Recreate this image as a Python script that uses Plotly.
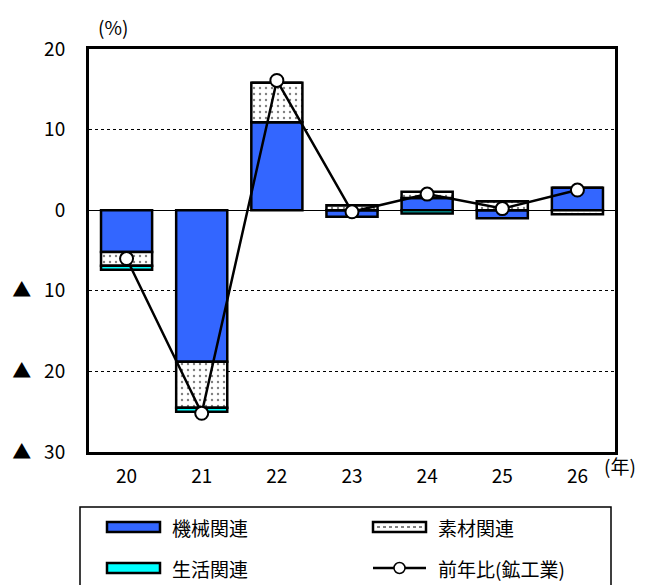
import plotly.graph_objects as go

years = ["20", "21", "22", "23", "24", "25", "26"]
series_names = ["機械関連", "素材関連", "生活関連", "前年比(鉱工業)"]
kikai = [-5.2, -18.8, 10.9, -0.8, 1.5, -1.0, 2.8]
sozai = [-1.7, -5.7, 4.9, 0.6, 0.8, 1.1, -0.5]
seikatsu = [-0.5, -0.5, 0.0, 0.0, -0.4, 0.0, 0.0]
total = [-6.0, -25.2, 16.1, -0.2, 2.0, 0.2, 2.5]
y_ticks = [20, 10, 0, -10, -20, -30]
y_ticktext = ["20", "10", "0", "▲   10", "▲   20", "▲   30"]

FONT = "Noto Sans CJK JP"
W, H = 651, 585
L, R, T, B = 89, 36, 49, 133
PW, PH = W - L - R, H - T - B


def px(x):
    return (x - L) / PW


def py(y):
    return (H - B - y) / PH


fig = go.Figure()
line_w = 2.5
fig.add_bar(x=years, y=kikai, name=series_names[0], marker=dict(color="#3366FF", line=dict(color="black", width=line_w)), showlegend=False)
fig.add_bar(x=years, y=sozai, name=series_names[1],
            marker=dict(color="white", line=dict(color="black", width=line_w),
                        pattern=dict(shape=".", fgcolor="black", bgcolor="white", size=6, solidity=0.12)),
            showlegend=False)
fig.add_bar(x=years, y=seikatsu, name=series_names[2], marker=dict(color="#00FFFF", line=dict(color="black", width=line_w)), showlegend=False)
fig.add_scatter(x=years, y=total, name=series_names[3], mode="lines+markers",
                line=dict(color="black", width=2.5),
                marker=dict(symbol="circle", size=13, color="white", line=dict(color="black", width=2)),
                showlegend=False)

shapes = []
annotations = []
# legend box
shapes.append(dict(type="rect", xref="paper", yref="paper", x0=px(80), x1=px(611), y0=py(600), y1=py(507),
                   line=dict(color="black", width=1.5), fillcolor="white", layer="above"))
rows = [527, 568]
cols = [107, 373]
shapes.append(dict(type="rect", xref="paper", yref="paper", x0=px(cols[0]), x1=px(cols[0] + 53),
                   y0=py(rows[0] + 5), y1=py(rows[0] - 5), line=dict(color="black", width=2.5), fillcolor="#3366FF"))
shapes.append(dict(type="rect", xref="paper", yref="paper", x0=px(cols[1]), x1=px(cols[1] + 53),
                   y0=py(rows[0] + 5), y1=py(rows[0] - 5), line=dict(color="black", width=2.5), fillcolor="white"))
shapes.append(dict(type="line", xref="paper", yref="paper", x0=px(cols[1] + 4), x1=px(cols[1] + 50),
                   y0=py(rows[0]), y1=py(rows[0]), line=dict(color="black", width=1, dash="dot")))
shapes.append(dict(type="rect", xref="paper", yref="paper", x0=px(cols[0]), x1=px(cols[0] + 53),
                   y0=py(rows[1] + 5), y1=py(rows[1] - 5), line=dict(color="black", width=2.5), fillcolor="#00FFFF"))
shapes.append(dict(type="line", xref="paper", yref="paper", x0=px(cols[1]), x1=px(cols[1] + 53),
                   y0=py(rows[1]), y1=py(rows[1]), line=dict(color="black", width=2.5)))
shapes.append(dict(type="circle", xref="paper", yref="paper", x0=px(cols[1] + 21), x1=px(cols[1] + 32),
                   y0=py(rows[1] + 5.5), y1=py(rows[1] - 5.5), line=dict(color="black", width=1.5), fillcolor="white"))

label_pos = [(cols[0], rows[0]), (cols[1], rows[0]), (cols[0], rows[1]), (cols[1], rows[1])]
for name, (cx, cy) in zip(series_names, label_pos):
    annotations.append(dict(text=name, xref="paper", yref="paper", x=px(cx + 63), y=py(cy),
                            xanchor="left", yanchor="middle", showarrow=False,
                            font=dict(family=FONT, size=19, color="black")))

annotations.append(dict(text="(%)", xref="paper", yref="paper", x=px(96), y=py(27), xanchor="left", yanchor="middle",
                        showarrow=False, font=dict(family=FONT, size=19, color="black")))
annotations.append(dict(text="(年)", xref="paper", yref="paper", x=px(602), y=py(465), xanchor="left", yanchor="middle",
                        showarrow=False, font=dict(family=FONT, size=19, color="black")))

fig.update_layout(
    width=W, height=H,
    margin=dict(l=L, r=R, t=T, b=B, pad=0),
    barmode="relative", bargap=0.32,
    plot_bgcolor="white", paper_bgcolor="white",
    font=dict(family=FONT, size=19, color="black"),
    shapes=shapes, annotations=annotations,
    xaxis=dict(showline=True, linecolor="black", linewidth=3, mirror=True, ticks="",
               tickfont=dict(family=FONT, size=19, color="black"), ticklabelstandoff=5, showgrid=False),
    yaxis=dict(range=[-30, 20], tickvals=y_ticks, ticktext=y_ticktext, showline=True, linecolor="black",
               linewidth=3, mirror=True, ticks="", ticklabelstandoff=17,
               tickfont=dict(family=FONT, size=19, color="black"),
               showgrid=True, gridcolor="black", gridwidth=1, griddash="dot",
               zeroline=True, zerolinecolor="black", zerolinewidth=1),
)

fig.write_html("out.html")
